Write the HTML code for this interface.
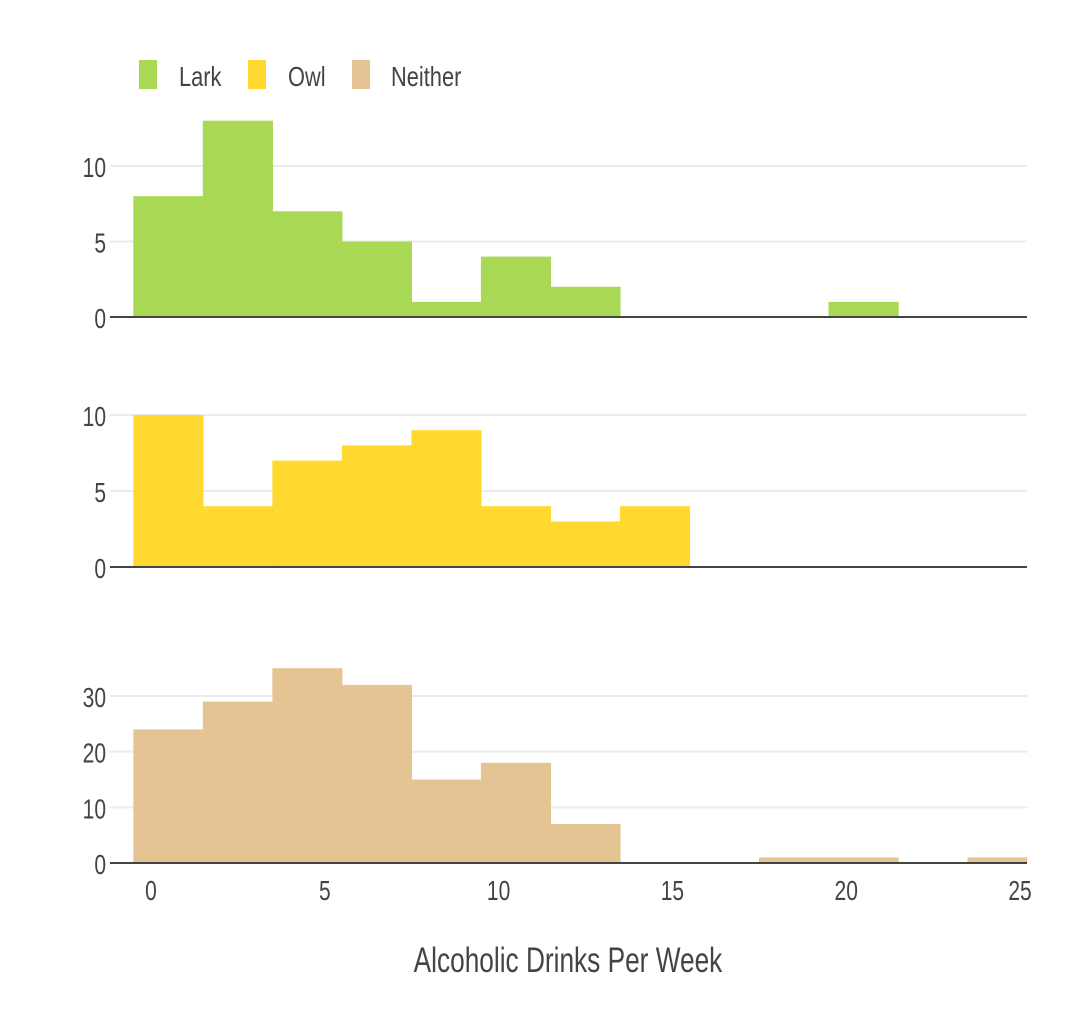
<!DOCTYPE html>
<html><head><meta charset="utf-8"><style>
body{margin:0;background:#fff;}
svg text{font-family:"Liberation Sans",sans-serif;fill:#444;}
</style></head><body>
<svg id="chart" width="1065" height="1007" xmlns="http://www.w3.org/2000/svg">
<g>
<rect x="139" y="60" width="18" height="29" fill="#a8d854"/>
<text x="179" y="86" font-size="28" transform="translate(179,0) scale(0.78,1) translate(-179,0)">Lark</text>
<rect x="248" y="60" width="18" height="29" fill="#ffd92f"/>
<text x="288" y="86" font-size="28" transform="translate(288,0) scale(0.78,1) translate(-288,0)">Owl</text>
<rect x="352" y="60" width="18" height="29" fill="#e5c494"/>
<text x="391" y="86" font-size="28" transform="translate(391,0) scale(0.78,1) translate(-391,0)">Neither</text>
</g>
<text x="568" y="972" font-size="35" text-anchor="middle" transform="translate(568,0) scale(0.75,1) translate(-568,0)">Alcoholic Drinks Per Week</text>
</svg>
<script>
const binStarts = [-0.5,1.5,3.5,5.5,7.5,9.5,11.5,13.5,15.5,17.5,19.5,21.5,23.5];
const larkCounts = [8,13,7,5,1,4,2,0,0,0,1,0,0];
const owlCounts = [10,4,7,8,9,4,3,4,0,0,0,0,0];
const neitherCounts = [24,29,35,32,15,18,7,0,0,1,1,0,1];
const xTicks = [0,5,10,15,20,25];
const larkTicks = [0,5,10];
const owlTicks = [0,5,10];
const neitherTicks = [0,10,20,30];
const binWidth = 2;

const svg = document.getElementById('chart');
const NS = 'http://www.w3.org/2000/svg';
const plotL = 110, plotR = 1027;
const x = v => 151 + v * (1020 - 151) / 25;
function mk(tag, attrs){const e=document.createElementNS(NS,tag);for(const k in attrs)e.setAttribute(k,attrs[k]);svg.appendChild(e);return e;}

const panels = [
 {name:'lark', counts:larkCounts, ticks:larkTicks, y0:317, ppu:(317-166)/10, color:'#a8d854'},
 {name:'owl', counts:owlCounts, ticks:owlTicks, y0:567, ppu:(567-415)/10, color:'#ffd92f'},
 {name:'neither', counts:neitherCounts, ticks:neitherTicks, y0:863, ppu:(863-696)/30, color:'#e5c494'}
];
panels.forEach(p=>{
  const y = v => p.y0 - v*p.ppu;
  p.ticks.forEach(t=>{
    if(t>0){const g=mk('line',{x1:plotL,x2:plotR,y1:y(t),y2:y(t),stroke:'#ebebeb','stroke-width':2});
    
    }
    const tx=mk('text',{x:106,y:y(t)+11,'font-size':28,'text-anchor':'end',transform:`translate(106,0) scale(0.75,1) translate(-106,0)`});
    tx.textContent=t;
    
    
  });
  p.counts.forEach((c,i)=>{
    if(c<=0) return;
    const x1=Math.max(x(binStarts[i]),plotL), x2=Math.min(x(binStarts[i]+binWidth),plotR);
    const r=mk('rect',{x:x1-0.3,y:y(c),width:x2-x1+0.6,height:y(0)-y(c),fill:p.color});
    
    
  });
  const z=mk('line',{x1:plotL,x2:plotR,y1:p.y0,y2:p.y0,stroke:'#444','stroke-width':2});
  
  
});
xTicks.forEach(t=>{
  const tx=mk('text',{x:x(t),y:900,'font-size':28,'text-anchor':'middle',transform:`translate(${x(t)},0) scale(0.75,1) translate(${-x(t)},0)`});
  tx.textContent=t;
  
  
});
</script>
</body></html>
